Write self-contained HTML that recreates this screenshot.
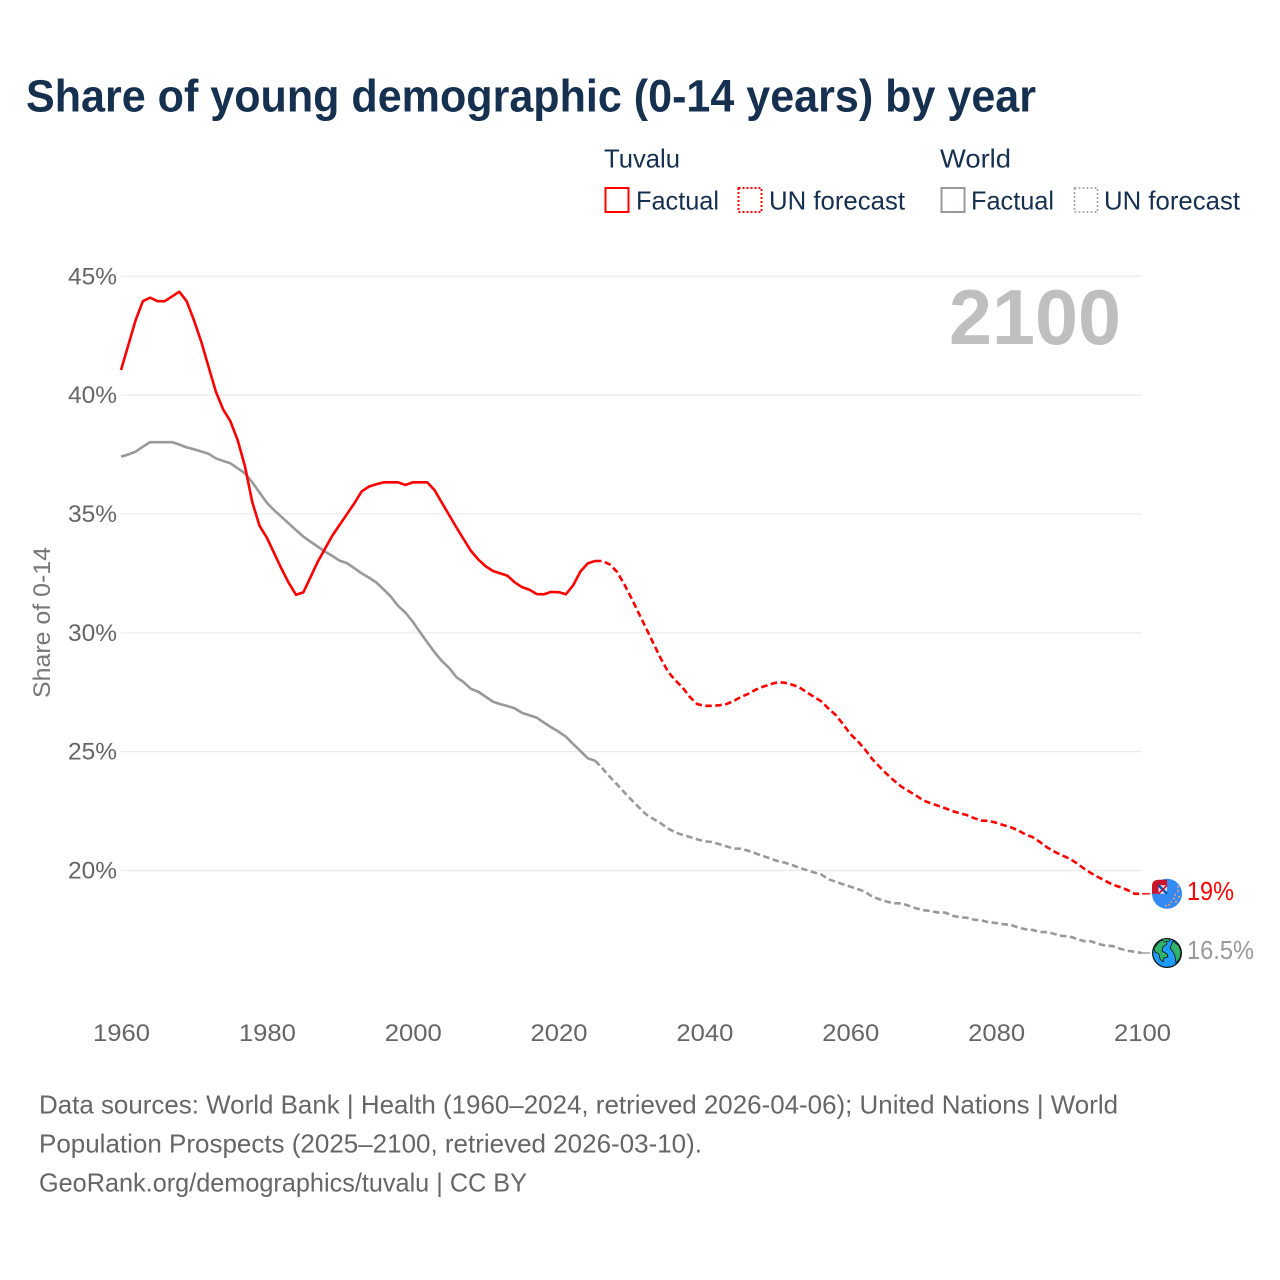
<!DOCTYPE html>
<html lang="en">
<head>
<meta charset="utf-8">
<title>Share of young demographic (0-14 years) by year</title>
<style>
html,body{margin:0;padding:0;background:#fff;}
svg{display:block;font-family:"Liberation Sans",sans-serif;}
</style>
</head>
<body>
<svg id="chart" xmlns="http://www.w3.org/2000/svg" width="1280" height="1280" viewBox="0 0 1280 1280">
  <rect x="0" y="0" width="1280" height="1280" fill="#fff"/>
  <text x="26" y="111.5" font-size="45" font-weight="700" fill="#16304f" textLength="1010" lengthAdjust="spacingAndGlyphs">Share of young demographic (0-14 years) by year</text>

  <g font-size="26" fill="#16304f">
    <text x="604" y="167.5" textLength="76" lengthAdjust="spacingAndGlyphs">Tuvalu</text>
    <text x="940" y="167.5" textLength="71" lengthAdjust="spacingAndGlyphs">World</text>
    <rect x="605.5" y="188" width="23" height="24" fill="none" stroke="#ff0000" stroke-width="2"/>
    <text x="636" y="209.5" textLength="83" lengthAdjust="spacingAndGlyphs">Factual</text>
    <rect x="738.5" y="188" width="23" height="24" fill="none" stroke="#ff0000" stroke-width="2" stroke-dasharray="2 2"/>
    <text x="769" y="209.5" textLength="136" lengthAdjust="spacingAndGlyphs">UN forecast</text>
    <rect x="941.5" y="188" width="23" height="24" fill="none" stroke="#999" stroke-width="2"/>
    <text x="971" y="209.5" textLength="83" lengthAdjust="spacingAndGlyphs">Factual</text>
    <rect x="1074.5" y="188" width="23" height="24" fill="none" stroke="#999" stroke-width="1.5" stroke-dasharray="2 2"/>
    <text x="1104" y="209.5" textLength="136" lengthAdjust="spacingAndGlyphs">UN forecast</text>
  </g>

  <g id="grid"></g>
  <g id="yaxis"></g>
  <g id="xaxis"></g>
  <text transform="translate(50,698) rotate(-90)" font-size="24" fill="#777" textLength="151" lengthAdjust="spacingAndGlyphs">Share of 0-14</text>
  <text x="949" y="344" font-size="78" font-weight="700" fill="#bfbfbf" textLength="172" lengthAdjust="spacingAndGlyphs">2100</text>
  <g id="series"></g>
  <g id="markers"></g>

  <g font-size="26" fill="#666">
    <text x="39" y="1113.5" textLength="1079" lengthAdjust="spacingAndGlyphs">Data sources: World Bank | Health (1960–2024, retrieved 2026-04-06); United Nations | World</text>
    <text x="39" y="1152.5" textLength="663" lengthAdjust="spacingAndGlyphs">Population Prospects (2025–2100, retrieved 2026-03-10).</text>
    <text x="39" y="1191.5" textLength="488" lengthAdjust="spacingAndGlyphs">GeoRank.org/demographics/tuvalu | CC BY</text>
  </g>
</svg>
<script>
const firstYear = 1960;
const forecastStartYear = 2025;
const xTicks = [1960, 1980, 2000, 2020, 2040, 2060, 2080, 2100];
const yTicks = [20, 25, 30, 35, 40, 45];
const tuvaluValues = [
  41.05,42.1,43.15,43.95,44.1,43.95,43.95,44.15,44.35,43.95,
  43.15,42.25,41.2,40.15,39.4,38.9,38.1,37.0,35.5,34.5,
  34.0,33.35,32.7,32.1,31.6,31.7,32.35,33.0,33.55,34.1,
  34.55,35.0,35.45,35.95,36.15,36.25,36.33,36.33,36.33,36.22,
  36.33,36.33,36.33,36.0,35.47,34.95,34.43,33.93,33.44,33.08,
  32.8,32.6,32.5,32.4,32.12,31.92,31.81,31.63,31.62,31.72,
  31.71,31.62,32.0,32.58,32.92,33.02,33.02,32.88,32.57,32.05,
  31.45,30.82,30.19,29.56,28.93,28.37,28.0,27.7,27.3,27.0,
  26.93,26.93,26.95,27.0,27.13,27.3,27.43,27.6,27.73,27.83,
  27.92,27.9,27.82,27.71,27.5,27.31,27.12,26.82,26.54,26.16,
  25.74,25.45,25.1,24.69,24.37,24.06,23.78,23.53,23.34,23.16,
  22.95,22.83,22.73,22.62,22.5,22.41,22.33,22.2,22.1,22.09,
  22.01,21.91,21.82,21.69,21.52,21.4,21.2,20.97,20.79,20.64,
  20.51,20.32,20.09,19.89,19.72,19.56,19.4,19.3,19.18,19.02,
  19.02
];
const worldValues = [
  37.41,37.5,37.62,37.83,38.02,38.02,38.02,38.02,37.92,37.8,
  37.72,37.63,37.53,37.34,37.23,37.13,36.92,36.71,36.33,35.9,
  35.47,35.16,34.88,34.6,34.32,34.05,33.83,33.62,33.41,33.23,
  33.03,32.93,32.72,32.5,32.32,32.12,31.83,31.52,31.13,30.85,
  30.47,30.03,29.6,29.18,28.81,28.52,28.13,27.92,27.64,27.52,
  27.31,27.1,27.0,26.92,26.82,26.63,26.53,26.43,26.22,26.02,
  25.84,25.63,25.32,25.03,24.72,24.62,24.3,23.95,23.63,23.29,
  22.97,22.66,22.36,22.17,21.99,21.77,21.6,21.5,21.41,21.31,
  21.23,21.2,21.11,21.02,20.92,20.92,20.83,20.72,20.61,20.51,
  20.4,20.33,20.23,20.12,20.02,19.92,19.84,19.63,19.53,19.42,
  19.32,19.22,19.11,18.9,18.79,18.69,18.62,18.62,18.52,18.41,
  18.33,18.3,18.23,18.23,18.1,18.03,18.01,17.93,17.9,17.82,
  17.79,17.74,17.71,17.61,17.53,17.5,17.41,17.41,17.33,17.25,
  17.23,17.13,17.03,17.02,16.91,16.84,16.82,16.71,16.62,16.58,
  16.53
];
const tuvaluEndLabel = "19%";
const worldEndLabel = "16.5%";

const NS = "http://www.w3.org/2000/svg";
function xScale(year) { return 121 + (year - 1960) * (1021 / 140); }
function yScale(value) { return 870.5 - (value - 20) * 23.77; }
function make(tag, attrs, parent) {
  const el = document.createElementNS(NS, tag);
  for (const k in attrs) el.setAttribute(k, attrs[k]);
  parent.appendChild(el);
  return el;
}
function linePath(values, from, to) {
  let d = "";
  for (let i = 0; i < values.length; i++) {
    const yr = firstYear + i;
    if (yr < from || yr > to) continue;
    d += (d ? "L" : "M") + xScale(yr).toFixed(2) + "," + yScale(values[i]).toFixed(2);
  }
  return d;
}

const grid = document.getElementById("grid");
const yaxis = document.getElementById("yaxis");
const xaxis = document.getElementById("xaxis");
const series = document.getElementById("series");
const markers = document.getElementById("markers");

yTicks.forEach(function (t) {
  const line = make("line", {x1: xScale(1960), x2: xScale(2100), y1: yScale(t), y2: yScale(t), stroke: "#ebebeb", "stroke-width": 1.2}, grid);
  
  
  const label = make("text", {x: 68, y: yScale(t) + 8, "font-size": 24, fill: "#666", textLength: 49, lengthAdjust: "spacingAndGlyphs"}, yaxis);
  label.textContent = t + "%";
  
  
});

xTicks.forEach(function (t) {
  const label = make("text", {x: xScale(t) + 0.5 - 28.5, y: 1041, "font-size": 24, fill: "#666", textLength: 57, lengthAdjust: "spacingAndGlyphs"}, xaxis);
  label.textContent = String(t);
  
  
});

function drawSeries(values, color) {
  const solid = make("path", {d: linePath(values, firstYear, forecastStartYear), fill: "none", stroke: color, "stroke-width": 2.6, "stroke-linejoin": "round"}, series);
  
  
  const dash = make("path", {d: linePath(values, forecastStartYear, 2100), fill: "none", stroke: color, "stroke-width": 2.6, "stroke-dasharray": "6.5 3.5"}, series);
  
  
  const last = values[values.length - 1];
  const tail = make("line", {x1: xScale(2100), x2: xScale(2100) + 8, y1: yScale(last), y2: yScale(last), stroke: color, "stroke-width": 1.4}, series);
  
  
}
drawSeries(worldValues, "#999999");
drawSeries(tuvaluValues, "#ff0000");

/* Tuvalu flag marker */
const cx = 1167;
const tuvaluY = yScale(tuvaluValues[tuvaluValues.length - 1]);
const flag = make("g", {transform: "translate(" + cx + "," + tuvaluY + ")"}, markers);


make("circle", {cx: 0, cy: 0, r: 15, fill: "#338af3"}, flag);
make("path", {d: "M0,0L-15,0L-15,-8Q-15,-14 -8,-14L0,-14Z", fill: "#c9142e"}, flag);
make("rect", {x: -8.5, y: -8.5, width: 8.5, height: 8.5, fill: "#dfe6f2"}, flag);
make("path", {d: "M-8.5,-8.5L0,0", stroke: "#0052b4", "stroke-width": 2.5}, flag);
make("path", {d: "M-8.5,0L0,-8.5", stroke: "#d80027", "stroke-width": 1.6}, flag);
[[11,-3],[8,1],[12,3],[7,5],[4,8],[2,11],[9,8],[-1,12],[11,-7]].forEach(function (p) {
  make("circle", {cx: p[0], cy: p[1], r: 1, fill: "#f0a070"}, flag);
});

/* World globe marker */
const worldY = yScale(worldValues[worldValues.length - 1]);
const globe = make("g", {transform: "translate(" + cx + "," + worldY + ")"}, markers);


make("circle", {cx: 0, cy: 0, r: 14.4, fill: "#1e9bff", stroke: "#111", "stroke-width": 1.2}, globe);
make("path", {d: "M-13,-5L-7,-12L-1,-13L0,-9L-4,-6L-5,-2L0,1L1,4L-3,5L-4,9L-7,6L-8,1L-12,-1Z", fill: "#2fb36a", stroke: "#111", "stroke-width": 0.8}, globe);
make("path", {d: "M6,-12L12,-7L14,-1L13,5L9,10L8,3L6,-1L3,-5Z", fill: "#2fb36a", stroke: "#111", "stroke-width": 0.8}, globe);
make("path", {d: "M-5,-14L2,-14L3,-12L-3,-11Z", fill: "#2fb36a", stroke: "#111", "stroke-width": 0.6}, globe);

const tuvaluLabel = make("text", {x: 1187, y: tuvaluY + 6, "font-size": 26, fill: "#ff0000", textLength: 47, lengthAdjust: "spacingAndGlyphs"}, markers);
tuvaluLabel.textContent = tuvaluEndLabel;


const worldLabel = make("text", {x: 1187, y: worldY + 6, "font-size": 26, fill: "#999999", textLength: 67, lengthAdjust: "spacingAndGlyphs"}, markers);
worldLabel.textContent = worldEndLabel;


</script>
</body>
</html>
